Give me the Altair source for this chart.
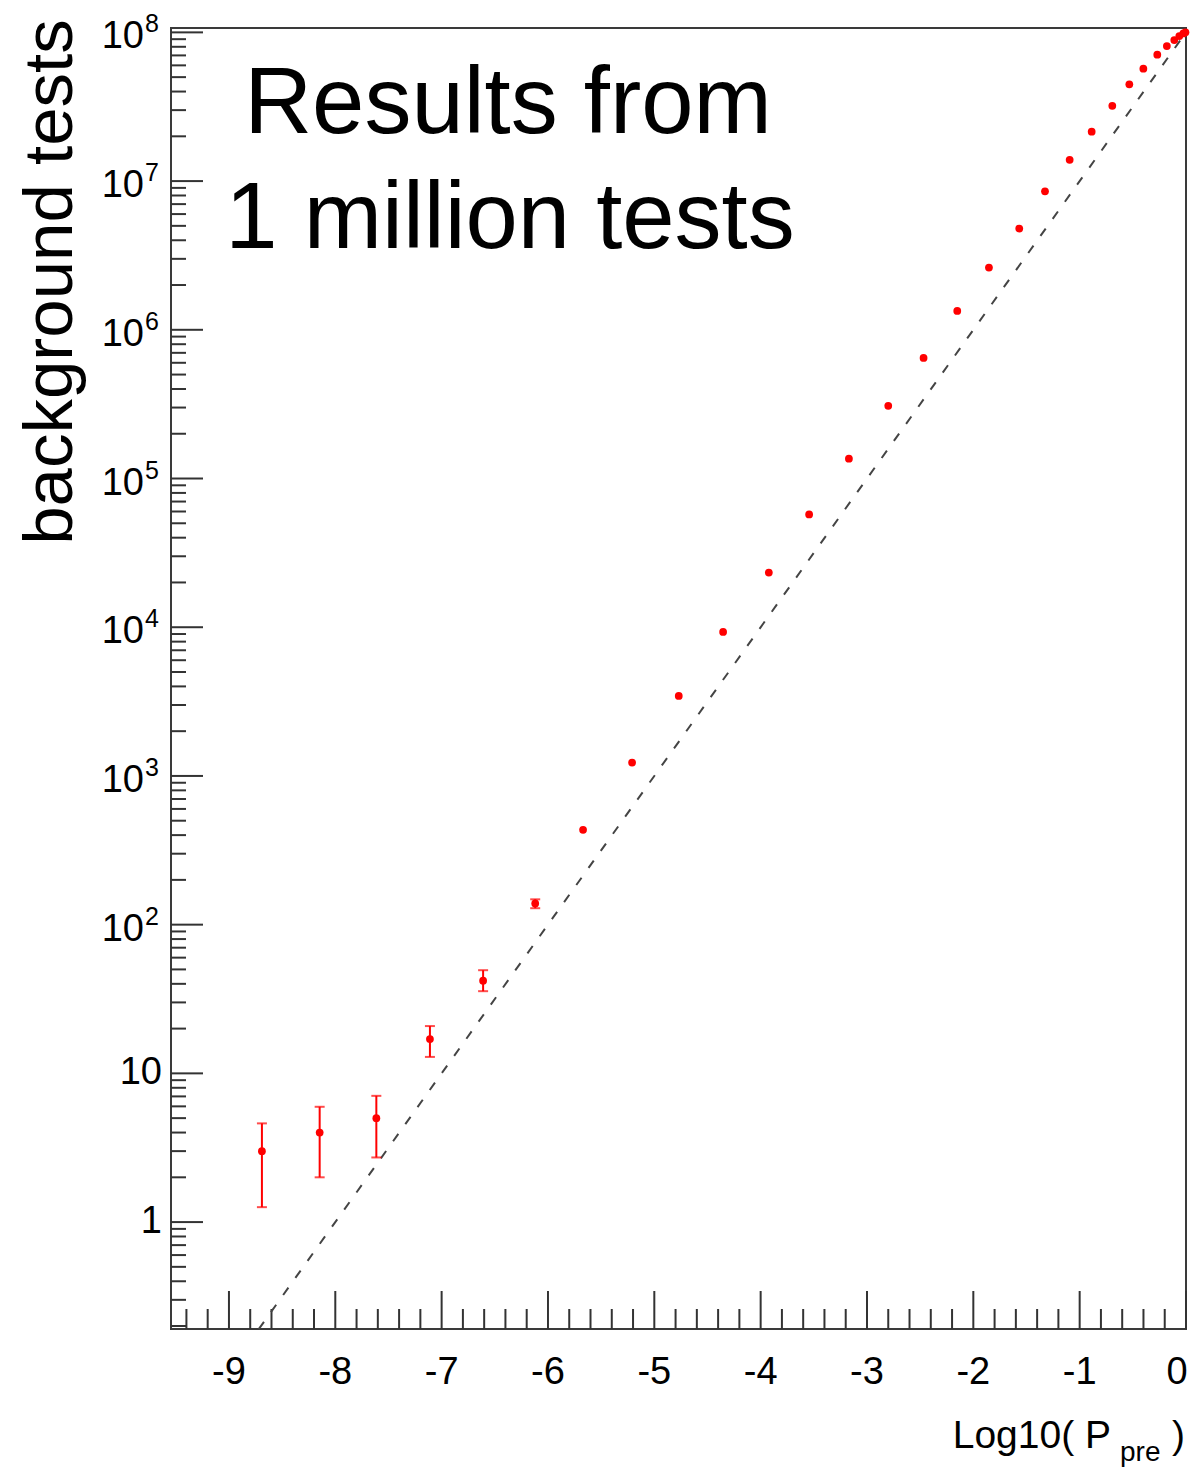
import altair as alt
import pandas as pd

# ---------------- data ----------------
log_p = [-8.69, -8.147, -7.614, -7.11, -6.61, -6.12, -5.67, -5.209, -4.77, -4.353,
         -3.923, -3.544, -3.170, -2.800, -2.468, -2.151, -1.853, -1.568, -1.326, -1.094,
         -0.887, -0.693, -0.533, -0.401, -0.270, -0.180, -0.110, -0.063, -0.025, -0.005]
counts = [3, 4, 5, 17, 42, 139, 434, 1230, 3450, 9290,
          23300, 57300, 136000, 308000, 647000, 1340000, 2620000, 4790000, 8530000, 13900000,
          21500000, 32100000, 44700000, 57000000, 70800000, 80900000, 88700000, 94400000,
          98400000, 100000000]

# visible error bars (first six points)
err_x = [-8.69, -8.147, -7.614, -7.11, -6.61, -6.12]
err_low = [1.26, 2.0, 2.72, 12.9, 35.7, 129]
err_high = [4.61, 5.96, 7.06, 20.8, 49.4, 148]

# dashed reference line endpoints
ref_x = [-8.72, 0.0]
ref_y = [0.1905, 1.0e8]

# axis ticks / labels
y_major = [1, 10, 100, 1e3, 1e4, 1e5, 1e6, 1e7, 1e8]
y_label_base = ["1", "10", "10", "10", "10", "10", "10", "10", "10"]
y_label_exp = ["", "", "2", "3", "4", "5", "6", "7", "8"]
y_minor_mant = [2, 3, 4, 5, 6, 7, 8, 9]
y_minor_dec = [-1, 0, 1, 2, 3, 4, 5, 6, 7]
x_major = [-9, -8, -7, -6, -5, -4, -3, -2, -1, 0]
x_labels = ["-9", "-8", "-7", "-6", "-5", "-4", "-3", "-2", "-1", "0"]
x_minor_steps = [0.2, 0.4, 0.6, 0.8]

# ---------------- layout ----------------
W, H = 1015, 1301
FONT = "Liberation Sans"
X_DOM = [-9.545, 0.0]
Y_DOM = [0.191, 1.07e8]

xs = alt.Scale(domain=X_DOM, nice=False, zero=False)
ys = alt.Scale(type="log", domain=Y_DOM, nice=False)

pts = pd.DataFrame({"x": log_p, "y": counts})
errs = pd.DataFrame({"x": err_x, "lo": err_low, "hi": err_high})
ref = pd.DataFrame({"x": ref_x, "y": ref_y})

ymaj = pd.DataFrame({"y": y_major, "base": y_label_base, "exp": y_label_exp})
ymin = pd.DataFrame({"y": [m * 10.0 ** d for d in y_minor_dec for m in y_minor_mant]})
ymin = ymin[(ymin.y >= Y_DOM[0]) & (ymin.y <= Y_DOM[1])]
xmaj = pd.DataFrame({"x": x_major, "lab": x_labels})
xmin = pd.DataFrame({"x": [round(k - s, 3) for k in x_major for s in x_minor_steps]})
xmin = xmin[(xmin.x >= X_DOM[0]) & (xmin.x <= X_DOM[1])]

tick_color = "#333333"

ref_line = alt.Chart(ref).mark_line(color="#444444", strokeWidth=2, strokeDash=[9, 12]).encode(
    x=alt.X("x:Q", scale=xs, axis=None),
    y=alt.Y("y:Q", scale=ys, axis=None),
)

err_rule = alt.Chart(errs).mark_rule(color="#ff0000", strokeWidth=2).encode(
    x=alt.X("x:Q", scale=xs, axis=None),
    y=alt.Y("lo:Q", scale=ys, axis=None),
    y2="hi:Q",
)
cap_lo = alt.Chart(errs).mark_tick(color="#ff0000", orient="horizontal", size=10, thickness=2).encode(
    x=alt.X("x:Q", scale=xs, axis=None),
    y=alt.Y("lo:Q", scale=ys, axis=None),
)
cap_hi = alt.Chart(errs).mark_tick(color="#ff0000", orient="horizontal", size=10, thickness=2).encode(
    x=alt.X("x:Q", scale=xs, axis=None),
    y=alt.Y("hi:Q", scale=ys, axis=None),
)
points = alt.Chart(pts).mark_circle(color="#ff0000", size=60, opacity=1).encode(
    x=alt.X("x:Q", scale=xs, axis=None),
    y=alt.Y("y:Q", scale=ys, axis=None),
)

# ticks (inward, ROOT style)
ymaj_ticks = alt.Chart(ymaj).mark_rule(color=tick_color, strokeWidth=2).encode(
    y=alt.Y("y:Q", scale=ys, axis=None), x=alt.value(0), x2=alt.value(32))
ymin_ticks = alt.Chart(ymin).mark_rule(color=tick_color, strokeWidth=2).encode(
    y=alt.Y("y:Q", scale=ys, axis=None), x=alt.value(0), x2=alt.value(15))
xmaj_ticks = alt.Chart(xmaj).mark_rule(color=tick_color, strokeWidth=2).encode(
    x=alt.X("x:Q", scale=xs, axis=None), y=alt.value(H), y2=alt.value(H - 38))
xmin_ticks = alt.Chart(xmin).mark_rule(color=tick_color, strokeWidth=2).encode(
    x=alt.X("x:Q", scale=xs, axis=None), y=alt.value(H), y2=alt.value(H - 20))

# tick labels
x_lab = alt.Chart(xmaj).transform_filter("datum.x < 0").mark_text(
    font=FONT, fontSize=38, baseline="middle", align="center", color="black").encode(
    x=alt.X("x:Q", scale=xs, axis=None), y=alt.value(H + 44), text="lab:N")
x_lab_end = alt.Chart(xmaj).transform_filter("datum.x == 0").mark_text(
    font=FONT, fontSize=38, baseline="middle", align="center", color="black", dx=-9).encode(
    x=alt.X("x:Q", scale=xs, axis=None), y=alt.value(H + 44), text="lab:N")
y_lab_plain = alt.Chart(ymaj).transform_filter("datum.exp == ''").mark_text(
    font=FONT, fontSize=38, baseline="middle", align="right", color="black").encode(
    y=alt.Y("y:Q", scale=ys, axis=None), x=alt.value(-9), text="base:N")
y_lab_base = alt.Chart(ymaj).transform_filter("datum.exp != ''").mark_text(
    font=FONT, fontSize=38, baseline="middle", align="right", color="black", dy=5).encode(
    y=alt.Y("y:Q", scale=ys, axis=None), x=alt.value(-27), text="base:N")
y_lab_exp = alt.Chart(ymaj).transform_filter("datum.exp != ''").mark_text(
    font=FONT, fontSize=25, baseline="middle", align="left", color="black", dy=-8).encode(
    y=alt.Y("y:Q", scale=ys, axis=None), x=alt.value(-26), text="exp:N")

# titles
def label(txt, x, y, size, align="left", angle=0):
    return alt.Chart(pd.DataFrame({"t": [txt]})).mark_text(
        font=FONT, fontSize=size, align=align, baseline="alphabetic", color="black", angle=angle
    ).encode(text="t:N", x=alt.value(x), y=alt.value(y))

title1 = label("Results from", 337, 105, 94, align="center")
title2 = label("1 million tests", 339, 220, 94, align="center")
ytitle = label("background tests", -99, 254, 69, align="center", angle=270)
xt_main = label("Log10( P", 940, 1420, 39, align="right")
xt_sub = label("pre", 949, 1433, 28, align="left")
xt_close = label(")", 1001, 1420, 39, align="left")

chart = alt.layer(
    ymin_ticks, ymaj_ticks, xmin_ticks, xmaj_ticks,
    ref_line, err_rule, cap_lo, cap_hi, points,
    x_lab, x_lab_end, y_lab_plain, y_lab_base, y_lab_exp,
    title1, title2, ytitle, xt_main, xt_sub, xt_close,
).properties(
    width=W, height=H,
    autosize=alt.AutoSizeParams(type="none"),
    padding={"left": 163, "top": 20, "right": 4, "bottom": 139},
    background="white",
).configure_view(stroke="#3a3a3a", strokeWidth=2)

chart.save("out.html", embed_options={"renderer": "svg", "actions": False})
